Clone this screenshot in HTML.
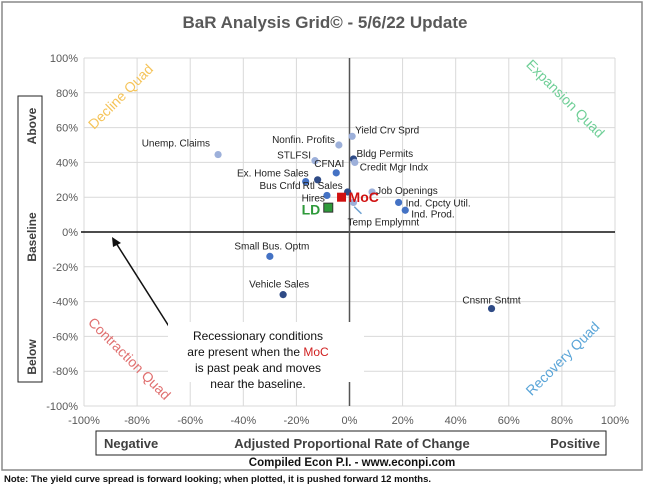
<!DOCTYPE html>
<html><head><meta charset="utf-8"><style>
html,body{margin:0;padding:0;background:#fff;}
svg{display:block;font-family:"Liberation Sans",sans-serif;}
</style></head><body>
<svg id="chart" width="650" height="486" viewBox="0 0 650 486">
<rect x="2" y="2" width="640" height="468" fill="#fff" stroke="#888" stroke-width="1.5"/>
<text x="325" y="28" text-anchor="middle" font-size="17" font-weight="bold" fill="#595959">BaR Analysis Grid© - 5/6/22 Update</text>
<g id="grid"></g>
<g id="yticks"></g>
<g id="xticks"></g>
<rect x="18" y="96" width="24" height="286" fill="none" stroke="#222" stroke-width="1"/>
<text transform="translate(36,126) rotate(-90)" text-anchor="middle" font-size="12" font-weight="bold" fill="#404040">Above</text>
<text transform="translate(36,237) rotate(-90)" text-anchor="middle" font-size="12" font-weight="bold" fill="#404040">Baseline</text>
<text transform="translate(36,357) rotate(-90)" text-anchor="middle" font-size="12" font-weight="bold" fill="#404040">Below</text>
<rect x="96" y="431" width="510" height="24" fill="none" stroke="#222" stroke-width="1"/>
<text x="104" y="448" font-size="13" font-weight="bold" fill="#404040">Negative</text>
<text x="352" y="448" text-anchor="middle" font-size="13" font-weight="bold" fill="#404040">Adjusted Proportional Rate of Change</text>
<text x="600" y="448" text-anchor="end" font-size="13" font-weight="bold" fill="#404040">Positive</text>
<text x="352" y="466" text-anchor="middle" font-size="11.5" font-weight="bold" fill="#111">Compiled Econ P.I. - www.econpi.com</text>
<text x="4" y="482" font-size="9.5" font-weight="bold" fill="#111">Note: The yield curve spread is forward looking; when plotted, it is pushed forward 12 months.</text>
<text transform="translate(124,100) rotate(-45)" text-anchor="middle" font-size="14" fill="#f5c45a">Decline Quad</text>
<text transform="translate(562,102) rotate(45)" text-anchor="middle" font-size="14" fill="#6fcf97">Expansion Quad</text>
<text transform="translate(126,362) rotate(45)" text-anchor="middle" font-size="14" fill="#e07070">Contraction Quad</text>
<text transform="translate(566,362) rotate(-45)" text-anchor="middle" font-size="14" fill="#5aa5d8">Recovery Quad</text>
<line x1="170" y1="328" x2="116" y2="243" stroke="#111" stroke-width="1.5"/>
<polygon points="112,237 121,243 113,247" fill="#111"/>
<rect x="168" y="322" width="196" height="60" fill="#fff"/>
<text text-anchor="middle" font-size="12" fill="#111"><tspan x="258" y="340">Recessionary conditions</tspan><tspan x="258" y="356">are present when the <tspan fill="#d02020">MoC</tspan></tspan><tspan x="258" y="372">is past peak and moves</tspan><tspan x="258" y="388">near the baseline.</tspan></text>
<g id="points"></g>
</svg>
<script>
const labels=["Unemp. Claims","Nonfin. Profits","Yield Crv Sprd","STLFSI","Bldg Permits","Credit Mgr Indx","CFNAI","Ex. Home Sales","Bus Cnfd","Rtl Sales","Hires","Temp Emplymnt","Job Openings","Ind. Cpcty Util.","Ind. Prod.","Small Bus. Optm","Vehicle Sales","Cnsmr Sntmt"];
const xVals=[-49.5,-4,1,-13,1.5,2,-5,-16.5,-12,-0.7,-8.5,1.5,8.5,18.5,21,-30,-25,53.5];
const yVals=[44.5,50,55,41,42,40,34,29,30,23,21,17,23,17,12.5,-14,-36,-44];
const shades=["l","l","l","l","d","l","m","m","d","d","m","l","l","m","m","m","d","d"];
const markerNames=["MoC","LD"];
const markerX=[-3,-8];
const markerY=[20,14];
const ticks=[-100,-80,-60,-40,-20,0,20,40,60,80,100];

const X=v=>349.5+v*2.655;
const NS="http://www.w3.org/2000/svg";
function mk(t,a,p){const e=document.createElementNS(NS,t);for(const k in a)e.setAttribute(k,a[k]);p.appendChild(e);return e;}
const g=document.getElementById('grid'),yt=document.getElementById('yticks'),xt=document.getElementById('xticks'),pts=document.getElementById('points');
const Yv=v=>232-v*1.74;
ticks.forEach(t=>{
 const l1=mk('line',{x1:X(-100),x2:X(100),y1:Yv(t),y2:Yv(t),stroke:'#d9d9d9','stroke-width':1},g);
 
 
 const l2=mk('line',{x1:X(t),x2:X(t),y1:Yv(100),y2:Yv(-100),stroke:'#d9d9d9','stroke-width':1},g);
 
 
 const a=mk('text',{x:X(-100)-6,y:Yv(t)+4,'text-anchor':'end','font-size':11,fill:'#595959'},yt);a.textContent=t+'%';
 
 
 const b=mk('text',{x:X(t),y:Yv(-100)+18,'text-anchor':'middle','font-size':11,fill:'#595959'},xt);b.textContent=t+'%';
 
 
});
const ax1=mk('line',{x1:X(-100)-3,x2:X(100),y1:Yv(0),y2:Yv(0),stroke:'#111','stroke-width':1.5},g);


const ax2=mk('line',{x1:X(0),x2:X(0),y1:Yv(100),y2:Yv(-100),stroke:'#555','stroke-width':1.5},g);


const col={l:'#9db0da',m:'#4472c4',d:'#2f4b86'};
const lblPos={"Unemp. Claims":[-8,-8,'end'],"Nonfin. Profits":[-4,-2,'end'],"Yield Crv Sprd":[3,-3,'start'],"STLFSI":[-4,-2,'end'],"Bldg Permits":[3,-2,'start'],"Credit Mgr Indx":[5,8,'start'],"CFNAI":[8,-6,'end'],"Ex. Home Sales":[3,-5,'end'],"Bus Cnfd":[-17,9,'end'],"Rtl Sales":[-5,-3,'end'],"Hires":[-2,6,'end'],"Temp Emplymnt":[-6,23,'start'],"Job Openings":[4,2,'start'],"Ind. Cpcty Util.":[7,4,'start'],"Ind. Prod.":[6,7,'start'],"Small Bus. Optm":[2,-7,'middle'],"Vehicle Sales":[-4,-7,'middle'],"Cnsmr Sntmt":[0,-5,'middle']};
labels.forEach((n,i)=>{
 const cx=X(xVals[i]),cy=Yv(yVals[i]);
 const c=mk('circle',{cx:cx,cy:cy,r:3.6,fill:col[shades[i]]},pts);
 
 
 const p=lblPos[n]||[4,-4,'start'];
 const t=mk('text',{x:cx+p[0],y:cy+p[1],'text-anchor':p[2],'font-size':10,fill:'#222'},pts);t.textContent=n;
 
 
});
const arr=mk('line',{x1:X(4.5),y1:Yv(10.5),x2:X(1.8),y2:Yv(14.5),stroke:'#6a9fd0','stroke-width':1.5},pts);


const mcol=['#d01010','#2e9a3a'];
markerNames.forEach((n,i)=>{
 const cx=X(markerX[i]),cy=Yv(markerY[i]);
 const r=mk('rect',{x:cx-4.5,y:cy-4.5,width:9,height:9,fill:mcol[i],stroke:i?'#333':'none','stroke-width':1},pts);
 
 
 const t=mk('text',{x:i?cx-8:cx+7,y:i?cy+7:cy+5,'text-anchor':i?'end':'start','font-size':14,'font-weight':'bold',fill:mcol[i]},pts);t.textContent=n;
 
 
});
</script>
</body></html>
